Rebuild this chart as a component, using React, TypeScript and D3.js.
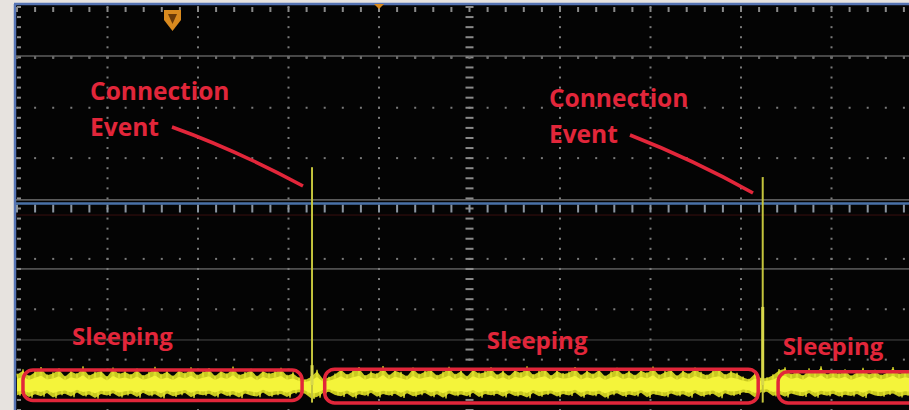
import React from "react";
import * as d3 from "d3";

const W = 909;
const H = 410;

// time divisions (x) and vertical divisions (y)
const xDivs = [1, 2, 3, 4, 6, 7, 8, 9];
const yDivs = [1, 2, 3, 5, 6, 7];
const cursorLevels = [0.973, 3.83, 5.2, 6.61];
const cursorColors = ["#8a8a8a", "#9a9a9a", "#8a8a8a", "#4a4a4a"];
const blueMarkerLevel = 3.9;

// signal spikes (connection events)
const spikeT = [3.26, 8.24];
const spikePeak = [9.9, 9.45];
const spikeMid = [0.9, 3.55];

// noise envelope (sleeping current)
const noiseTop = [
  0.45, 0.62, 0.38, 0.55, 0.71, 0.42, 0.5, 0.66, 0.36, 0.58,
  0.47, 0.74, 0.4, 0.53, 0.61, 0.35, 0.69, 0.48, 0.56, 0.43,
  0.65, 0.39, 0.52, 0.72, 0.44, 0.57, 0.37, 0.63, 0.49, 0.7,
  0.41, 0.54, 0.67, 0.38, 0.59, 0.46, 0.73, 0.42, 0.51, 0.64,
  0.36, 0.6, 0.48, 0.55, 0.68, 0.4, 0.5, 0.3, 0.22, 0.35,
  0.6, 0.25, 0.32, 0.45, 0.66, 0.43, 0.58, 0.71, 0.39, 0.54,
  0.47, 0.75, 0.41, 0.62, 0.52, 0.37, 0.69, 0.45, 0.57, 0.64,
  0.4, 0.53, 0.72, 0.44, 0.6, 0.36, 0.66, 0.49, 0.55, 0.7,
  0.42, 0.58, 0.38, 0.63, 0.51, 0.74, 0.43, 0.56, 0.67, 0.39,
  0.61, 0.47, 0.53, 0.71, 0.41, 0.59, 0.45, 0.65, 0.37, 0.54,
  0.68, 0.44, 0.57, 0.4, 0.62, 0.5, 0.73, 0.42, 0.55, 0.64,
  0.38, 0.6, 0.46, 0.69, 0.52, 0.41, 0.58, 0.66, 0.43, 0.56,
  0.48, 0.33, 0.24, 0.5, 0.28, 0.3, 0.42, 0.63, 0.7, 0.45,
  0.57, 0.39, 0.66, 0.51, 0.74, 0.43, 0.59, 0.47, 0.62, 0.38,
  0.55, 0.68, 0.44, 0.6, 0.41, 0.53, 0.71, 0.46, 0.58, 0.5,
];
const noiseBottom = [
  -0.42, -0.35, -0.5, -0.38, -0.46, -0.33, -0.52, -0.4, -0.36, -0.48,
  -0.31, -0.45, -0.39, -0.54, -0.37, -0.43, -0.34, -0.49, -0.41, -0.36,
  -0.5, -0.32, -0.44, -0.38, -0.53, -0.35, -0.47, -0.4, -0.33, -0.51,
  -0.37, -0.42, -0.36, -0.49, -0.34, -0.45, -0.39, -0.52, -0.35, -0.43,
  -0.48, -0.31, -0.46, -0.4, -0.37, -0.5, -0.34, -0.3, -0.36, -0.55,
  -0.5, -0.33, -0.28, -0.41, -0.47, -0.35, -0.52, -0.38, -0.44, -0.32,
  -0.49, -0.37, -0.43, -0.36, -0.51, -0.34, -0.46, -0.4, -0.33, -0.48,
  -0.38, -0.53, -0.35, -0.44, -0.39, -0.47, -0.32, -0.5, -0.37, -0.42,
  -0.36, -0.49, -0.34, -0.45, -0.41, -0.52, -0.33, -0.46, -0.39, -0.35,
  -0.48, -0.37, -0.43, -0.31, -0.5, -0.38, -0.44, -0.36, -0.53, -0.4,
  -0.34, -0.47, -0.39, -0.45, -0.32, -0.51, -0.37, -0.42, -0.48, -0.35,
  -0.44, -0.38, -0.5, -0.33, -0.46, -0.4, -0.36, -0.52, -0.34, -0.43,
  -0.39, -0.3, -0.34, -0.52, -0.3, -0.28, -0.45, -0.37, -0.49, -0.35,
  -0.42, -0.47, -0.33, -0.5, -0.38, -0.44, -0.36, -0.48, -0.4, -0.45,
  -0.37, -0.51, -0.34, -0.43, -0.46, -0.39, -0.35, -0.49, -0.41, -0.44,
];
const noiseStep = 0.0663;

// annotation boxes around sleeping periods
const boxStart = [0.066, 3.4, 8.41];
const boxEnd = [3.15, 8.19, 10.6];
const boxTop = [0.68, 0.72, 0.6];
const boxBottom = [-0.7, -0.82, -0.82];

const sleepLabels = ["Sleeping", "Sleeping", "Sleeping"];
const sleepLabelT = [0.608, 5.19, 8.46];
const sleepLabelV = [1.82, 1.64, 1.36];

const eventLabelT = [0.807, 5.878];
const eventLabelV = [12.95, 12.64];

const RED = "#e2263a";
const FONT = "'Open Sans', 'DejaVu Sans', sans-serif";

export default function App() {
  const x = d3.scaleLinear().domain([0, 10]).range([17, 922]);
  const yg = d3.scaleLinear().domain([0, 8]).range([7, 410]);
  const sy = d3.scaleLinear().domain([0, 10]).range([385, 165]);

  const xMinor = d3.range(0, 10.01, 0.2);
  const yMinor = d3.range(0, 8.01, 0.2);

  const samples = noiseTop.map((v, i) => ({
    t: i * noiseStep,
    top: v,
    bot: noiseBottom[i],
  }));
  const area = d3
    .area<any>()
    .x((d) => x(d.t))
    .y0((d) => sy(d.bot * 1.1))
    .y1((d) => sy(d.top * 1.05));
  const coreArea = d3
    .area<any>()
    .x((d) => x(d.t))
    .y0((d) => sy(d.bot * 0.7))
    .y1((d) => sy(d.top * 0.6));
  const zig: [number, number][] = [];
  samples.forEach((d) => {
    zig.push([x(d.t), sy(d.top * 1.15)]);
    zig.push([x(d.t + noiseStep / 2), sy(d.bot * 1.15)]);
  });
  const zigLine = d3.line()(zig) || "";

  return (
    <svg
      width={W}
      height={H}
      style={{ position: "absolute", left: 0, top: 0, display: "block" }}
    >
      <rect x={0} y={0} width={W} height={H} fill="#e7e3df" />
      <rect x={14} y={4} width={W - 14} height={H - 4} fill="#040404" />
      <line x1={14} x2={W} y1={4} y2={4} stroke="#5674b4" strokeWidth={2.5} />
      <line x1={15} x2={15} y1={4} y2={H} stroke="#5674b4" strokeWidth={2.5} />

      {/* cursor lines */}
      {cursorLevels.map((c, i) => (
        <line
          key={"c" + i}
          x1={16}
          x2={W}
          y1={yg(c)}
          y2={yg(c)}
          stroke={cursorColors[i]}
          strokeWidth={1}
        />
      ))}

      {/* vertical dotted grid */}
      {xDivs.map((d) =>
        yMinor.map((m, j) => (
          <rect
            key={"vd" + d + "-" + j}
            x={x(d) - 1}
            y={yg(m) - 1}
            width={2}
            height={2}
            fill="#7a7a7a"
          />
        ))
      )}
      {/* horizontal dotted grid */}
      {yDivs.map((d) =>
        xMinor.map((m, j) => (
          <rect
            key={"hd" + d + "-" + j}
            x={x(m) - 1}
            y={yg(d) - 1}
            width={2}
            height={2}
            fill="#7a7a7a"
          />
        ))
      )}
      {/* center vertical axis with ticks */}
      {yMinor.map((m, j) => (
        <rect
          key={"cv" + j}
          x={x(5) - 4}
          y={yg(m) - 1}
          width={8}
          height={2}
          fill="#8a8a8a"
        />
      ))}
      {/* top and left edge ticks */}
      {xMinor.map((m, j) => (
        <rect
          key={"tt" + j}
          x={x(m) - 1}
          y={yg(0)}
          width={2}
          height={5}
          fill="#8a8a8a"
        />
      ))}
      {yMinor.map((m, j) => (
        <rect
          key={"lt" + j}
          x={17}
          y={yg(m) - 1}
          width={4}
          height={2}
          fill="#8a8a8a"
        />
      ))}
      {/* ticks along cursor line near top */}
      {xMinor.map((m, j) => (
        <rect
          key={"ct" + j}
          x={x(m) - 1}
          y={yg(cursorLevels[0])}
          width={2}
          height={3}
          fill="#6a6a6a"
        />
      ))}
      {/* center horizontal axis ticks */}
      {xMinor.map((m, j) => (
        <rect
          key={"ch" + j}
          x={x(m) - 1}
          y={yg(4) - 4}
          width={2}
          height={8}
          fill="#8a94a0"
        />
      ))}
      <line
        x1={16}
        x2={W}
        y1={yg(blueMarkerLevel)}
        y2={yg(blueMarkerLevel)}
        stroke="#4a72a8"
        strokeWidth={2.5}
      />
      <line
        x1={16}
        x2={W}
        y1={yg(4.13)}
        y2={yg(4.13)}
        stroke="#3a1010"
        strokeWidth={1}
      />

      {/* trigger & position markers */}
      <path
        d="M164,10 L181,10 L181,20 L172.5,31 L164,20 Z"
        fill="#d98a1e"
      />
      <path d="M168,14 L177,14 L172.5,24 Z" fill="#6a3a08" />
      <path d="M374,4 L384,4 L379,9 Z" fill="#d98a1e" />

      {/* noise band */}
      <path d={area(samples) || ""} fill="#c8c820" />
      <path d={zigLine} fill="none" stroke="#dede2c" strokeWidth={1.2} />
      <path d={coreArea(samples) || ""} fill="#f4f43a" />

      {/* spikes */}
      {spikeT.map((t, i) => (
        <g key={"s" + i}>
          <line
            x1={x(t)}
            x2={x(t)}
            y1={sy(-0.8)}
            y2={sy(spikePeak[i])}
            stroke="#c4c43c"
            strokeWidth={2}
          />
          <line
            x1={x(t)}
            x2={x(t)}
            y1={sy(0)}
            y2={sy(spikeMid[i])}
            stroke="#d8d84a"
            strokeWidth={3}
          />
        </g>
      ))}

      {/* sleeping boxes */}
      {boxStart.map((s, i) => (
        <rect
          key={"b" + i}
          x={x(s)}
          y={sy(boxTop[i])}
          width={x(boxEnd[i]) - x(s)}
          height={sy(boxBottom[i]) - sy(boxTop[i])}
          rx={10}
          ry={10}
          fill="none"
          stroke={RED}
          strokeWidth={3.5}
        />
      ))}

      {/* labels */}
      {sleepLabels.map((s, i) => (
        <text
          key={"sl" + i}
          x={x(sleepLabelT[i])}
          y={sy(sleepLabelV[i])}
          fill={RED}
          fontFamily={FONT}
          fontWeight={700}
          fontSize={24}
        >
          {s}
        </text>
      ))}
      {eventLabelT.map((t, i) => (
        <g key={"ev" + i}>
          <text
            x={x(t)}
            y={sy(eventLabelV[i])}
            fill={RED}
            fontFamily={FONT}
            fontWeight={700}
            fontSize={24.5}
          >
            Connection
          </text>
          <text
            x={x(t)}
            y={sy(eventLabelV[i]) + 36}
            fill={RED}
            fontFamily={FONT}
            fontWeight={700}
            fontSize={24.5}
          >
            Event
          </text>
        </g>
      ))}
      <path
        d="M172,127 Q236,150 303,186"
        fill="none"
        stroke={RED}
        strokeWidth={3.5}
      />
      <path
        d="M630,135 Q694,160 753,193"
        fill="none"
        stroke={RED}
        strokeWidth={3.5}
      />
    </svg>
  );
}
